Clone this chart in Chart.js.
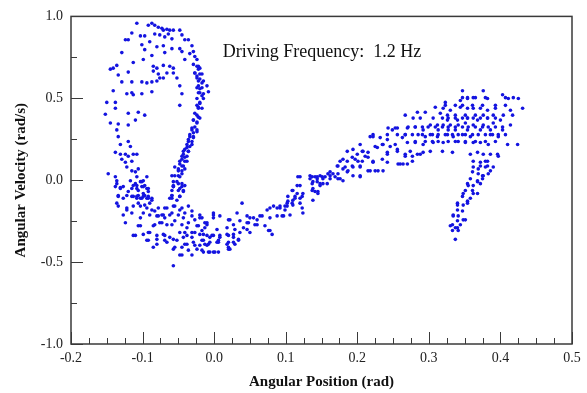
<!DOCTYPE html>
<html>
<head>
<meta charset="utf-8">
<script src="https://cdn.jsdelivr.net/npm/chart.js@4.4.1/dist/chart.umd.min.js"></script>
<style>
  html, body { margin: 0; padding: 0; background: #fff; }
  #wrap { width: 587px; height: 393px; }
</style>
</head>
<body>
<div id="wrap"><canvas id="phaseChart"></canvas></div>
<script>
// Phase-space samples [angular position (rad), angular velocity (rad/s)]
const leftLoop = [
  [-0.108, 0.958], [-0.087, 0.958], [-0.092, 0.946], [-0.083, 0.946], [-0.078, 0.934], [-0.073, 0.928],
  [-0.071, 0.916], [-0.066, 0.922], [-0.062, 0.916], [-0.057, 0.916], [-0.048, 0.916], [-0.115, 0.899],
  [-0.120, 0.857], [-0.124, 0.857], [-0.103, 0.881], [-0.097, 0.881], [-0.083, 0.893], [-0.076, 0.887],
  [-0.069, 0.875], [-0.064, 0.893], [-0.059, 0.863], [-0.045, 0.887], [-0.041, 0.857], [-0.036, 0.857],
  [-0.101, 0.827], [-0.090, 0.845], [-0.080, 0.815], [-0.071, 0.821], [-0.059, 0.803], [-0.048, 0.803],
  [-0.031, 0.821], [-0.029, 0.785], [-0.129, 0.779], [-0.097, 0.797], [-0.087, 0.761], [-0.069, 0.779],
  [-0.045, 0.785], [-0.034, 0.773], [-0.027, 0.755], [-0.113, 0.719], [-0.099, 0.737], [-0.041, 0.737],
  [-0.024, 0.737], [-0.141, 0.684], [-0.136, 0.701], [-0.085, 0.696], [-0.080, 0.684], [-0.071, 0.701],
  [-0.062, 0.696], [-0.057, 0.684], [-0.029, 0.707], [-0.022, 0.696], [-0.020, 0.684], [-0.145, 0.678],
  [-0.134, 0.642], [-0.120, 0.660], [-0.085, 0.666], [-0.078, 0.648], [-0.076, 0.624], [-0.071, 0.624],
  [-0.066, 0.654], [-0.057, 0.654], [-0.052, 0.624], [-0.027, 0.654], [-0.024, 0.636], [-0.017, 0.648],
  [-0.020, 0.618], [-0.015, 0.606], [-0.129, 0.600], [-0.115, 0.600], [-0.101, 0.600], [-0.094, 0.594],
  [-0.087, 0.600], [-0.080, 0.606], [-0.048, 0.576], [-0.022, 0.576], [-0.017, 0.564], [-0.010, 0.576],
  [-0.141, 0.546], [-0.122, 0.528], [-0.115, 0.534], [-0.113, 0.522], [-0.101, 0.528], [-0.087, 0.540],
  [-0.045, 0.528], [-0.020, 0.534], [-0.015, 0.528], [-0.008, 0.540], [-0.150, 0.475], [-0.138, 0.475],
  [-0.015, 0.499], [-0.020, 0.469], [-0.152, 0.403], [-0.138, 0.439], [-0.120, 0.409], [-0.106, 0.415],
  [-0.097, 0.397], [-0.048, 0.457], [-0.022, 0.445], [-0.017, 0.439], [-0.024, 0.397], [-0.020, 0.379],
  [-0.145, 0.349], [-0.134, 0.343], [-0.136, 0.307], [-0.120, 0.337], [-0.110, 0.367], [-0.029, 0.367],
  [-0.024, 0.349], [-0.031, 0.319], [-0.024, 0.307], [-0.029, 0.290], [-0.034, 0.266], [-0.029, 0.260],
  [-0.134, 0.266], [-0.131, 0.218], [-0.120, 0.236], [-0.117, 0.206], [-0.036, 0.236], [-0.031, 0.218],
  [-0.038, 0.200], [-0.043, 0.176], [-0.036, 0.176], [-0.138, 0.170], [-0.131, 0.158], [-0.124, 0.158],
  [-0.120, 0.146], [-0.113, 0.158], [-0.108, 0.158], [-0.045, 0.146], [-0.041, 0.140], [-0.048, 0.116],
  [-0.038, 0.116], [-0.129, 0.128], [-0.124, 0.110], [-0.115, 0.116], [-0.055, 0.081], [-0.045, 0.087],
  [-0.050, 0.057], [-0.041, 0.069], [-0.122, 0.081], [-0.115, 0.057], [-0.110, 0.051], [-0.106, 0.069],
  [-0.148, 0.039], [-0.138, 0.021], [-0.059, 0.027], [-0.050, 0.027], [-0.045, 0.039], [-0.108, 0.021],
  [-0.103, -0.009], [-0.099, -0.003], [-0.094, 0.021], [-0.136, -0.021], [-0.127, -0.039], [-0.113, -0.033],
  [-0.108, -0.051], [-0.101, -0.039], [-0.097, -0.033], [-0.092, -0.051], [-0.057, -0.033], [-0.050, -0.021],
  [-0.045, -0.039], [-0.134, -0.093], [-0.122, -0.093], [-0.113, -0.099], [-0.106, -0.093], [-0.101, -0.110],
  [-0.097, -0.093], [-0.092, -0.099], [-0.087, -0.110], [-0.059, -0.093], [-0.048, -0.099]
];

// dense falling band on the right side of the loop
const loopBand = [
  [-0.024, 0.696], [-0.022, 0.678], [-0.027, 0.654], [-0.020, 0.648], [-0.024, 0.624], [-0.022, 0.606],
  [-0.017, 0.594], [-0.024, 0.564], [-0.020, 0.558], [-0.022, 0.534], [-0.017, 0.516], [-0.024, 0.499],
  [-0.020, 0.475], [-0.024, 0.457], [-0.022, 0.439], [-0.027, 0.409], [-0.022, 0.385], [-0.029, 0.367],
  [-0.024, 0.355], [-0.027, 0.325], [-0.031, 0.307], [-0.024, 0.296], [-0.034, 0.278], [-0.029, 0.266],
  [-0.036, 0.248], [-0.031, 0.236], [-0.038, 0.218], [-0.034, 0.206], [-0.041, 0.188], [-0.036, 0.176],
  [-0.043, 0.158], [-0.038, 0.146], [-0.045, 0.128], [-0.041, 0.116], [-0.048, 0.099], [-0.043, 0.087],
  [-0.050, 0.069], [-0.045, 0.057], [-0.055, 0.027], [-0.048, 0.021], [-0.052, -0.009], [-0.045, -0.021],
  [-0.057, -0.039], [-0.050, -0.063], [-0.043, -0.063], [-0.059, -0.093], [-0.048, -0.099], [-0.062, -0.110]
];

const lowerArc = [
  [-0.138, -0.039], [-0.131, -0.045], [-0.115, -0.051], [-0.108, -0.033], [-0.099, -0.039], [-0.094, -0.051],
  [-0.057, -0.039], [-0.048, -0.051], [-0.134, -0.099], [-0.127, -0.110], [-0.115, -0.099], [-0.108, -0.099],
  [-0.103, -0.110], [-0.099, -0.099], [-0.092, -0.110], [-0.087, -0.122], [-0.059, -0.110], [-0.052, -0.122],
  [-0.134, -0.158], [-0.122, -0.170], [-0.113, -0.158], [-0.103, -0.158], [-0.094, -0.170], [-0.087, -0.182],
  [-0.078, -0.170], [-0.066, -0.170], [-0.057, -0.158], [-0.045, -0.170], [-0.036, -0.158], [-0.127, -0.212],
  [-0.115, -0.200], [-0.099, -0.200], [-0.090, -0.212], [-0.080, -0.218], [-0.071, -0.212], [-0.062, -0.212],
  [-0.050, -0.212], [-0.031, -0.218], [-0.020, -0.212], [0.039, -0.140], [0.074, -0.182], [0.088, -0.170],
  [0.102, -0.158], [0.110, -0.122], [0.116, -0.081], [-0.124, -0.260], [-0.103, -0.278], [-0.085, -0.278],
  [-0.076, -0.260], [-0.066, -0.272], [-0.055, -0.248], [-0.045, -0.272], [-0.038, -0.290], [-0.024, -0.278],
  [-0.013, -0.260], [-0.001, -0.230], [0.008, -0.218], [0.022, -0.242], [0.036, -0.248], [0.046, -0.218],
  [0.055, -0.230], [0.064, -0.218], [0.032, -0.200], [0.048, -0.260], [0.060, -0.272], [0.071, -0.278],
  [0.078, -0.307], [-0.113, -0.337], [-0.099, -0.331], [-0.090, -0.319], [-0.080, -0.337], [-0.071, -0.331],
  [-0.062, -0.349], [-0.048, -0.319], [-0.038, -0.337], [-0.031, -0.319], [-0.020, -0.331], [-0.010, -0.337],
  [-0.001, -0.337], [0.008, -0.337], [0.018, -0.331], [0.027, -0.349], [0.036, -0.319], [0.046, -0.301],
  [-0.094, -0.367], [-0.080, -0.391], [-0.066, -0.379], [-0.052, -0.367], [-0.041, -0.391], [-0.029, -0.379],
  [-0.017, -0.367], [-0.008, -0.391], [0.004, -0.379], [0.018, -0.391], [0.027, -0.379], [0.034, -0.367],
  [-0.057, -0.421], [-0.045, -0.409], [-0.036, -0.427], [-0.024, -0.421], [-0.015, -0.439], [-0.008, -0.439],
  [-0.001, -0.439], [0.006, -0.439], [0.020, -0.409], [0.022, -0.421], [-0.048, -0.457], [-0.031, -0.457],
  [-0.057, -0.522],
  [0.117, 0.021], [0.137, 0.021], [0.144, 0.009], [0.151, 0.021], [0.138, -0.009], [0.148, -0.021],
  [0.120, -0.033], [0.109, -0.063], [0.124, -0.081], [0.141, -0.069], [0.113, -0.099], [0.120, -0.110],
  [0.109, -0.140], [0.103, -0.128], [0.099, -0.158], [0.092, -0.170], [0.083, -0.158], [0.078, -0.170],
  [0.124, -0.200], [0.106, -0.212], [0.097, -0.218], [0.088, -0.218], [0.078, -0.230], [0.067, -0.218],
  [0.060, -0.242], [0.050, -0.230], [-0.001, -0.212], [0.020, -0.242], [0.046, -0.260], [0.057, -0.272],
  [0.027, -0.272], [-0.010, -0.260], [-0.020, -0.230], [-0.013, -0.290], [0.004, -0.301], [0.018, -0.290],
  [0.029, -0.301], [0.041, -0.290], [0.050, -0.319], [0.076, -0.307], [0.081, -0.331], [-0.015, -0.331],
  [-0.003, -0.337], [0.008, -0.349], [0.020, -0.337], [0.027, -0.331], [0.034, -0.361], [-0.015, -0.367],
  [-0.006, -0.379], [0.006, -0.379], [0.020, -0.379], [0.029, -0.391], [-0.020, -0.397], [-0.010, -0.397],
  [0.020, -0.421], [-0.017, -0.427], [-0.006, -0.439], [0.001, -0.439],
  [-0.136, -0.003], [-0.117, -0.003], [-0.110, -0.021], [-0.101, -0.009], [-0.057, -0.009], [-0.041, -0.033],
  [-0.131, -0.051], [-0.120, -0.069], [-0.106, -0.063], [-0.099, -0.081], [-0.092, -0.069], [-0.059, -0.063],
  [-0.043, -0.069], [-0.108, -0.110], [-0.094, -0.110], [-0.136, -0.140], [-0.106, -0.140], [-0.097, -0.152],
  [-0.090, -0.140], [-0.069, -0.170], [-0.055, -0.158], [-0.048, -0.182], [-0.122, -0.182], [-0.083, -0.188],
  [-0.073, -0.212], [-0.059, -0.200], [-0.041, -0.200], [-0.031, -0.188], [-0.001, -0.200], [-0.103, -0.230],
  [-0.078, -0.218], [-0.069, -0.230], [-0.043, -0.230], [-0.027, -0.242], [-0.017, -0.230], [-0.106, -0.278],
  [-0.083, -0.272], [-0.073, -0.260], [-0.059, -0.272], [-0.036, -0.260], [-0.022, -0.278], [-0.010, -0.272],
  [-0.110, -0.337], [-0.092, -0.319], [-0.069, -0.337], [-0.041, -0.319], [-0.027, -0.319], [-0.017, -0.307],
  [-0.092, -0.367], [-0.080, -0.361], [-0.069, -0.367], [-0.057, -0.361], [-0.043, -0.349], [-0.031, -0.349],
  [-0.006, -0.349], [-0.085, -0.409], [-0.055, -0.409], [-0.038, -0.391], [-0.027, -0.397], [-0.013, -0.391],
  [0.006, -0.367], [-0.045, -0.457]
];

const upperBranch = [
  [0.347, 0.546], [0.376, 0.546], [0.403, 0.522], [0.425, 0.499], [0.411, 0.499], [0.362, 0.504],
  [0.354, 0.499], [0.382, 0.499], [0.344, 0.487], [0.323, 0.475], [0.431, 0.439], [0.309, 0.445],
  [0.320, 0.439], [0.330, 0.427], [0.344, 0.445], [0.354, 0.439], [0.362, 0.439], [0.372, 0.439],
  [0.382, 0.427], [0.393, 0.439], [0.414, 0.427], [0.267, 0.397], [0.284, 0.415], [0.295, 0.415],
  [0.316, 0.409], [0.326, 0.397], [0.337, 0.397], [0.351, 0.397], [0.365, 0.397], [0.376, 0.397],
  [0.390, 0.397], [0.404, 0.397], [0.417, 0.397], [0.278, 0.379], [0.288, 0.379], [0.306, 0.379],
  [0.326, 0.367], [0.340, 0.367], [0.354, 0.379], [0.368, 0.367], [0.382, 0.379], [0.400, 0.367],
  [0.302, 0.337], [0.312, 0.337], [0.320, 0.337], [0.330, 0.337], [0.341, 0.337], [0.351, 0.349],
  [0.362, 0.337], [0.376, 0.337], [0.390, 0.349], [0.414, 0.337], [0.253, 0.319], [0.270, 0.319],
  [0.281, 0.325], [0.292, 0.307], [0.313, 0.307], [0.327, 0.307], [0.337, 0.307], [0.354, 0.307],
  [0.372, 0.307], [0.386, 0.307], [0.403, 0.307], [0.243, 0.319], [0.222, 0.278], [0.232, 0.260],
  [0.256, 0.278], [0.267, 0.278], [0.285, 0.278], [0.295, 0.266], [0.302, 0.278], [0.312, 0.266],
  [0.326, 0.278], [0.334, 0.266], [0.347, 0.278], [0.358, 0.266], [0.386, 0.278], [0.397, 0.266],
  [0.407, 0.278], [0.218, 0.266], [0.242, 0.248], [0.253, 0.218], [0.270, 0.230], [0.281, 0.230],
  [0.292, 0.218], [0.306, 0.230], [0.320, 0.230], [0.337, 0.236], [0.351, 0.230], [0.362, 0.230],
  [0.372, 0.230], [0.383, 0.218], [0.410, 0.218], [0.424, 0.218], [0.204, 0.218], [0.225, 0.206],
  [0.236, 0.218], [0.208, 0.176], [0.215, 0.170], [0.242, 0.170], [0.256, 0.188], [0.267, 0.158],
  [0.277, 0.146], [0.288, 0.158], [0.302, 0.176], [0.319, 0.176], [0.333, 0.170], [0.358, 0.158],
  [0.368, 0.170], [0.376, 0.158], [0.386, 0.158], [0.397, 0.146], [0.186, 0.176], [0.200, 0.158],
  [0.215, 0.140], [0.176, 0.116], [0.186, 0.116], [0.197, 0.128], [0.207, 0.116], [0.222, 0.110],
  [0.242, 0.110], [0.257, 0.099], [0.264, 0.099], [0.277, 0.116], [0.172, 0.087], [0.183, 0.081],
  [0.193, 0.087], [0.204, 0.081], [0.215, 0.057], [0.225, 0.057], [0.236, 0.057], [0.162, 0.051],
  [0.173, 0.039], [0.186, 0.051], [0.194, 0.027], [0.204, 0.021], [0.134, 0.009], [0.144, 0.021],
  [0.152, 0.009], [0.162, 0.009], [0.173, 0.009], [0.180, -0.003], [0.120, 0.021], [0.137, -0.021],
  [0.148, -0.033], [0.158, -0.021], [0.116, -0.033], [0.137, -0.063], [0.145, -0.069], [0.110, -0.063],
  [0.103, -0.099], [0.113, -0.110], [0.123, -0.099], [0.138, -0.122], [0.102, -0.140], [0.110, -0.152],
  [0.120, -0.140], [0.092, -0.158], [0.099, -0.182], [0.123, -0.170], [0.095, -0.218],
  [0.134, 0.027], [0.141, 0.021], [0.148, 0.027], [0.155, 0.021], [0.162, 0.027], [0.169, 0.021],
  [0.176, 0.009], [0.159, 0.039], [0.166, 0.039], [0.144, -0.009], [0.152, -0.021], [0.138, -0.051],
  [0.145, -0.081], [0.180, 0.069], [0.187, 0.057], [0.194, 0.081], [0.204, 0.087], [0.173, 0.087],
  [0.180, 0.128], [0.193, 0.140], [0.201, 0.116], [0.211, 0.146], [0.207, 0.176], [0.194, 0.188],
  [0.222, 0.116], [0.235, 0.128], [0.242, 0.158], [0.228, 0.200], [0.235, 0.218], [0.246, 0.206],
  [0.256, 0.176], [0.222, 0.266], [0.242, 0.278], [0.256, 0.319], [0.249, 0.307], [0.263, 0.260],
  [0.274, 0.176], [0.267, 0.146], [0.284, 0.158], [0.292, 0.170], [0.260, 0.099], [0.270, 0.099],
  [0.204, 0.027], [0.218, 0.057], [0.229, 0.057]
];

// horizontal rows inside the right-hand cluster
const clusterRows = [
  [0.319, 0.379], [0.327, 0.379], [0.337, 0.379], [0.347, 0.379], [0.354, 0.379], [0.362, 0.379],
  [0.372, 0.379], [0.382, 0.379], [0.393, 0.379],
  [0.271, 0.325], [0.281, 0.325], [0.291, 0.325], [0.299, 0.325], [0.309, 0.325], [0.319, 0.325],
  [0.327, 0.325], [0.337, 0.325], [0.347, 0.325], [0.355, 0.325], [0.365, 0.325], [0.375, 0.325],
  [0.383, 0.325], [0.393, 0.325], [0.403, 0.325],
  [0.267, 0.278], [0.277, 0.278], [0.291, 0.278], [0.305, 0.278], [0.313, 0.278], [0.323, 0.278],
  [0.333, 0.278], [0.341, 0.278], [0.351, 0.278], [0.361, 0.278], [0.369, 0.278], [0.379, 0.278],
  [0.389, 0.278], [0.397, 0.278],
  [0.281, 0.236], [0.295, 0.236], [0.305, 0.236], [0.313, 0.236], [0.327, 0.236], [0.341, 0.236],
  [0.351, 0.236], [0.365, 0.236], [0.379, 0.236], [0.393, 0.236],
  [0.323, 0.457], [0.337, 0.457], [0.347, 0.457], [0.361, 0.457], [0.375, 0.457], [0.393, 0.457],
  [0.407, 0.457], [0.347, 0.504], [0.354, 0.504], [0.365, 0.504], [0.379, 0.504], [0.407, 0.504],
  [0.418, 0.504]
];

const returnHook = [
  [0.362, 0.116], [0.372, 0.110], [0.382, 0.116], [0.362, 0.081], [0.372, 0.087], [0.379, 0.081],
  [0.386, 0.057], [0.361, 0.051], [0.369, 0.039], [0.376, 0.027], [0.358, 0.009], [0.368, -0.003],
  [0.375, 0.009], [0.354, -0.021], [0.362, -0.033], [0.372, -0.021], [0.351, -0.063], [0.361, -0.063],
  [0.368, -0.081], [0.347, -0.099], [0.358, -0.110], [0.340, -0.140], [0.348, -0.152], [0.354, -0.140],
  [0.340, -0.182], [0.347, -0.188], [0.334, -0.218], [0.341, -0.218], [0.351, -0.242], [0.340, -0.248],
  [0.330, -0.278], [0.337, -0.290], [0.344, -0.272], [0.333, -0.307], [0.341, -0.307], [0.337, -0.361],
  [0.333, -0.272], [0.340, -0.290], [0.334, -0.212], [0.348, -0.242], [0.340, -0.152], [0.354, -0.128],
  [0.348, -0.081], [0.362, -0.081], [0.355, -0.033], [0.368, -0.009], [0.375, 0.027], [0.383, 0.039],
  [0.369, 0.069], [0.382, 0.087], [0.390, 0.081], [0.379, 0.116], [0.396, 0.158]
];

const xRange = [-0.2, 0.5];
const yRange = [-1.0, 1.0];
const annotation = 'Driving Frequency:  1.2 Hz';

const toXY = p => ({ x: p[0], y: p[1] });
const allPoints = [...leftLoop, ...loopBand, ...lowerArc, ...upperBranch, ...clusterRows, ...returnHook].map(toXY);

// inward ticks, frame box and annotation text
const framePlugin = {
  id: 'framePlugin',
  afterDraw(chart) {
    const { ctx, chartArea: a, scales: { x, y } } = chart;
    ctx.save();
    ctx.strokeStyle = '#3a3a3a';
    ctx.lineWidth = 1;
    ctx.beginPath();
    for (let i = 0; i <= 28; i++) {
      const px = Math.round(x.getPixelForValue(xRange[0] + i * 0.025)) + 0.5;
      const len = i % 4 === 0 ? 12 : 6;
      ctx.moveTo(px, a.bottom);
      ctx.lineTo(px, a.bottom - len);
    }
    for (let i = 0; i <= 8; i++) {
      const py = Math.round(y.getPixelForValue(yRange[0] + i * 0.25)) + 0.5;
      const len = i % 2 === 0 ? 12 : 6;
      ctx.moveTo(a.left, py);
      ctx.lineTo(a.left + len, py);
    }
    ctx.stroke();
    ctx.lineWidth = 1.5;
    ctx.strokeRect(a.left, a.top, a.right - a.left, a.bottom - a.top);

    ctx.fillStyle = '#111';
    ctx.font = '18px "Liberation Serif"';
    ctx.textBaseline = 'middle';
    ctx.fillText(annotation, x.getPixelForValue(0.012), y.getPixelForValue(0.78));
    ctx.restore();
  }
};

const serif = '"Liberation Serif", "Times New Roman", serif';
const fmt = v => (Math.abs(v) < 1e-9 ? 0 : v).toFixed(1);

new Chart(document.getElementById('phaseChart'), {
  type: 'scatter',
  data: {
    datasets: [{
      data: allPoints,
      backgroundColor: '#1414e0',
      borderWidth: 0,
      pointRadius: 1.8,
      pointHoverRadius: 1.8
    }]
  },
  options: {
    responsive: true,
    maintainAspectRatio: false,
    animation: false,
    layout: { padding: { top: 9, right: 15, left: 0, bottom: 0 } },
    scales: {
      x: {
        type: 'linear',
        min: xRange[0],
        max: xRange[1],
        grid: { display: false, drawTicks: false },
        border: { display: false },
        ticks: {
          stepSize: 0.1,
          padding: 6,
          color: '#222',
          font: { family: serif, size: 14 },
          callback: fmt
        },
        title: {
          display: true,
          text: 'Angular Position (rad)',
          color: '#111',
          font: { family: serif, size: 15, weight: 'bold' },
          padding: { top: 2, bottom: 2 }
        },
        afterFit: s => { s.height = 49; }
      },
      y: {
        type: 'linear',
        min: yRange[0],
        max: yRange[1],
        grid: { display: false, drawTicks: false },
        border: { display: false },
        ticks: {
          stepSize: 0.5,
          padding: 8,
          color: '#222',
          font: { family: serif, size: 14 },
          callback: fmt
        },
        title: {
          display: true,
          text: 'Angular Velocity (rad/s)',
          color: '#111',
          font: { family: serif, size: 15, weight: 'bold' },
          padding: { top: 12, bottom: 12 }
        },
        afterFit: s => { s.width = 71; }
      }
    },
    plugins: {
      legend: { display: false },
      tooltip: { enabled: false }
    }
  },
  plugins: [framePlugin]
});
</script>
</body>
</html>
